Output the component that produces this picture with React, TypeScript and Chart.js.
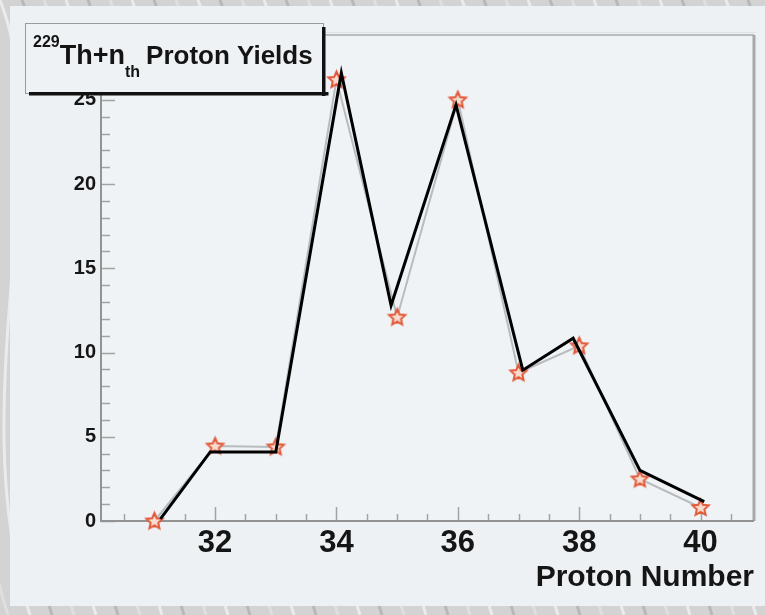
import React, { useEffect, useRef } from 'react';
import { Chart, registerables } from 'chart.js';

Chart.register(...registerables);

// ---- data ----
const PROTON_NUMBERS = [31, 32, 33, 34, 35, 36, 37, 38, 39, 40];
const STAR_YIELDS = [0.0, 4.45, 4.4, 26.2, 12.1, 25.0, 8.8, 10.4, 2.5, 0.8];
const LINE_X = [31.1, 31.92, 33.0, 34.08, 34.9, 35.97, 37.07, 37.9, 39.0, 40.06];
const LINE_YIELDS = [0.12, 4.1, 4.1, 26.6, 12.8, 24.7, 8.95, 10.85, 3.0, 1.15];
const X_TICKS = [32, 34, 36, 38, 40];
const Y_TICKS = [0, 5, 10, 15, 20, 25];
const X_RANGE = [30.12, 40.88];
const Y_RANGE = [0, 28.85];
const X_MINOR_STEP = 0.5;
const Y_MINOR_STEP = 1;

const TITLE_SUP = '229';
const TITLE_MAIN = 'Th+n';
const TITLE_SUB = 'th';
const TITLE_REST = 'Proton Yields';
const X_TITLE = 'Proton Number';

const FONT = '"Liberation Sans", Arial, Helvetica, sans-serif';

function makeStar(r: number): HTMLCanvasElement {
  const c = document.createElement('canvas');
  const s = Math.ceil(r * 2 + 6);
  c.width = s;
  c.height = s;
  const ctx = c.getContext('2d')!;
  ctx.translate(s / 2, s / 2 + 0.5);
  ctx.beginPath();
  for (let i = 0; i < 10; i++) {
    const rad = i % 2 ? r * 0.47 : r;
    const a = -Math.PI / 2 + (i * Math.PI) / 5;
    ctx.lineTo(rad * Math.cos(a), rad * Math.sin(a));
  }
  ctx.closePath();
  ctx.fillStyle = '#f8dccf';
  ctx.fill();
  ctx.lineWidth = 2;
  ctx.lineJoin = 'miter';
  ctx.strokeStyle = '#e2593a';
  ctx.stroke();
  return c;
}

const decorPlugin = {
  id: 'decor',
  beforeDraw(chart: any) {
    const { ctx, width, height, chartArea } = chart;
    ctx.save();
    // outer marble-like background
    ctx.fillStyle = '#d3d3d3';
    ctx.fillRect(0, 0, width, height);
    ctx.lineWidth = 3;
    for (let i = -40; i < 60; i++) {
      ctx.strokeStyle = i % 3 === 0 ? 'rgba(255,255,255,0.55)' : i % 3 === 1 ? 'rgba(150,150,150,0.45)' : 'rgba(235,235,235,0.5)';
      ctx.beginPath();
      const x0 = i * 22;
      ctx.moveTo(x0, 0);
      ctx.bezierCurveTo(x0 + 60, 150, x0 - 40, 400, x0 + 30, height);
      ctx.stroke();
    }
    // panel
    ctx.fillStyle = '#edf1f3';
    ctx.fillRect(10, 6, width - 10, 600);
    // plot area
    ctx.fillStyle = '#eff3f5';
    ctx.fillRect(chartArea.left, chartArea.top, chartArea.right - chartArea.left, chartArea.bottom - chartArea.top);
    ctx.restore();
  },
  beforeDatasetsDraw(chart: any) {
    const { ctx, chartArea, scales } = chart;
    const { left, right, top, bottom } = chartArea;
    const xs = scales.x;
    const ys = scales.y;
    ctx.save();
    // ticks
    ctx.strokeStyle = '#a3a3a3';
    ctx.lineWidth = 1.5;
    for (let v = Y_RANGE[0]; v <= Y_RANGE[1] + 1e-6; v += Y_MINOR_STEP) {
      const y = Math.round(ys.getPixelForValue(v)) + 0.5;
      const major = Y_TICKS.includes(Math.round(v * 100) / 100);
      const len = major ? 14 : 9;
      ctx.beginPath();
      ctx.moveTo(left, y);
      ctx.lineTo(left + len, y);
      ctx.stroke();
    }
    const xStart = Math.ceil(X_RANGE[0] / X_MINOR_STEP) * X_MINOR_STEP;
    for (let v = xStart; v <= X_RANGE[1] + 1e-6; v += X_MINOR_STEP) {
      const x = Math.round(xs.getPixelForValue(v)) + 0.5;
      const vv = Math.round(v * 100) / 100;
      const major = X_TICKS.includes(vv) || (Number.isInteger(vv) && vv % 2 === 0);
      const len = major ? 14 : 7;
      ctx.beginPath();
      ctx.moveTo(x, bottom);
      ctx.lineTo(x, bottom - len);
      ctx.stroke();
    }
    // frame
    ctx.lineWidth = 2;
    ctx.strokeStyle = '#b9bdbf';
    ctx.beginPath();
    ctx.moveTo(left, top);
    ctx.lineTo(right, top);
    ctx.stroke();
    ctx.strokeStyle = '#dfe3e5';
    ctx.lineWidth = 1;
    ctx.beginPath();
    ctx.moveTo(left, top - 2.5);
    ctx.lineTo(right + 2, top - 2.5);
    ctx.stroke();
    ctx.lineWidth = 3;
    ctx.strokeStyle = '#a5a9ab';
    ctx.beginPath();
    ctx.moveTo(right, top);
    ctx.lineTo(right, bottom);
    ctx.stroke();
    ctx.lineWidth = 2;
    ctx.strokeStyle = '#939393';
    ctx.beginPath();
    ctx.moveTo(left, top);
    ctx.lineTo(left, bottom);
    ctx.lineTo(right, bottom);
    ctx.stroke();
    ctx.restore();
  },
  afterDraw(chart: any) {
    const { ctx } = chart;
    ctx.save();
    // title pave with shadow
    const bx = 25, by = 23, bw = 298, bh = 70;
    ctx.fillStyle = '#eef2f4';
    ctx.fillRect(bx, by, bw, bh);
    ctx.strokeStyle = '#9a9a9a';
    ctx.lineWidth = 1;
    ctx.strokeRect(bx + 0.5, by + 0.5, bw, bh);
    ctx.fillStyle = '#111';
    ctx.fillRect(bx + bw - 1, by + 4, 3.5, bh - 1);
    ctx.fillRect(bx + 4, by + bh - 1, bw + 1.5, 3.5);

    ctx.fillStyle = '#141414';
    ctx.textBaseline = 'alphabetic';
    let x = 33;
    ctx.font = `bold 16px ${FONT}`;
    ctx.fillText(TITLE_SUP, x, 47);
    x += ctx.measureText(TITLE_SUP).width;
    ctx.font = `bold 27px ${FONT}`;
    ctx.fillText(TITLE_MAIN, x, 64);
    x += ctx.measureText(TITLE_MAIN).width;
    ctx.font = `bold 16px ${FONT}`;
    ctx.fillText(TITLE_SUB, x, 77);
    x += ctx.measureText(TITLE_SUB).width + 6;
    ctx.font = `bold 26px ${FONT}`;
    ctx.fillText(TITLE_REST, x, 64);
    ctx.restore();
  },
};

export default function App() {
  const ref = useRef<HTMLCanvasElement | null>(null);

  useEffect(() => {
    document.body.style.margin = '0';
    const canvas = ref.current!;
    const star = makeStar(8.5);
    const chart = new Chart(canvas, {
      type: 'scatter',
      data: {
        datasets: [
          {
            label: 'line',
            data: LINE_X.map((x, i) => ({ x, y: LINE_YIELDS[i] })),
            showLine: true,
            borderColor: '#000000',
            borderWidth: 3,
            pointRadius: 0,
            tension: 0,
            clip: false as any,
            order: 0,
          },
          {
            label: 'yields',
            data: PROTON_NUMBERS.map((x, i) => ({ x, y: STAR_YIELDS[i] })),
            showLine: true,
            borderColor: 'rgba(175,178,180,0.85)',
            borderWidth: 2,
            pointStyle: star as any,
            pointRadius: 9,
            clip: false as any,
            order: 1,
          },
        ],
      },
      options: {
        animation: false,
        responsive: false,
        layout: { padding: { left: 0, top: 35, right: 9, bottom: 19 } },
        plugins: {
          legend: { display: false },
          tooltip: { enabled: false },
          title: { display: false },
        },
        scales: {
          x: {
            type: 'linear',
            min: X_RANGE[0],
            max: X_RANGE[1],
            grid: { display: false, drawTicks: false },
            border: { display: false },
            ticks: {
              color: '#151515',
              font: { family: FONT, size: 31, weight: 'bold' },
              padding: 4,
              maxRotation: 0,
            },
            title: {
              display: true,
              text: X_TITLE,
              align: 'end',
              color: '#151515',
              font: { family: FONT, size: 30, weight: 'bold' },
              padding: 0,
            },
            afterBuildTicks: (s: any) => {
              s.ticks = X_TICKS.map((v) => ({ value: v }));
            },
            afterFit: (s: any) => {
              s.height = 75;
            },
          },
          y: {
            type: 'linear',
            min: Y_RANGE[0],
            max: Y_RANGE[1],
            grid: { display: false, drawTicks: false },
            border: { display: false },
            ticks: {
              color: '#151515',
              font: { family: FONT, size: 20, weight: 'bold' },
              padding: 5,
            },
            afterBuildTicks: (s: any) => {
              s.ticks = Y_TICKS.map((v) => ({ value: v }));
            },
            afterFit: (s: any) => {
              s.width = 101;
            },
          },
        },
      },
      plugins: [decorPlugin],
    });
    return () => chart.destroy();
  }, []);

  return (
    <div style={{ width: 765, height: 615 }}>
      <canvas ref={ref} width={765} height={615} style={{ display: 'block', width: 765, height: 615 }} />
    </div>
  );
}
